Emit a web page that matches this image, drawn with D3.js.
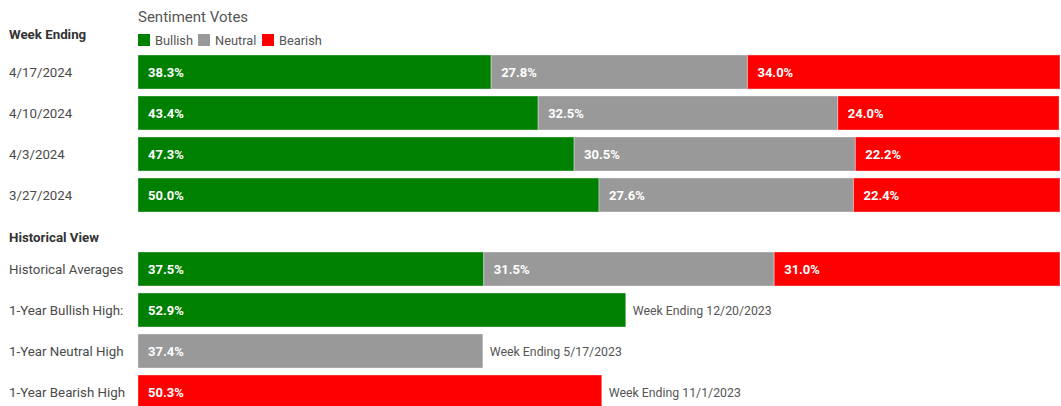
<!DOCTYPE html>
<html><head><meta charset="utf-8">
<script src="https://cdn.jsdelivr.net/npm/d3@7"></script>
<style>
body{margin:0;background:#fff;}
svg{display:block;font-family:Roboto, "Noto Sans", sans-serif;}
</style></head>
<body><svg id="c" width="1061" height="406"></svg>
<script>
const weeks = ["4/17/2024","4/10/2024","4/3/2024","3/27/2024"];
const bullish = [38.3, 43.4, 47.3, 50.0];
const neutral = [27.8, 32.5, 30.5, 27.6];
const bearish = [34.0, 24.0, 22.2, 22.4];

const histLabels = ["Historical Averages","1-Year Bullish High:","1-Year Neutral High","1-Year Bearish High"];
const histAvg = [37.5, 31.5, 31.0];
const highValues = [52.9, 37.4, 50.3];
const highSeries = ["Bullish","Neutral","Bearish"];
const highDates = ["Week Ending 12/20/2023","Week Ending 5/17/2023","Week Ending 11/1/2023"];

const seriesNames = ["Bullish","Neutral","Bearish"];
const colors = {Bullish:"#008000", Neutral:"#999999", Bearish:"#ff0000"};

const svg = d3.select("#c");
const x = d3.scaleLinear().domain([0,100]).range([138,1060]);
const yW = d3.scaleBand().domain(weeks).range([51.5,215.5]).paddingInner(7/41).paddingOuter(3.5/41);
const yH = d3.scaleBand().domain(histLabels).range([248.5,412.5]).paddingInner(7/41).paddingOuter(3.5/41);

const labelColor = "#4a4a4a";
const labelSize = 13.3;

// Headers
svg.append("text").attr("x",138).attr("y",22).attr("font-size",15).attr("fill","#555").text("Sentiment Votes");
svg.append("text").attr("x",9).attr("y",39).attr("font-size",13.3).attr("font-weight","bold").attr("fill","#333").text("Week Ending");
svg.append("text").attr("x",9).attr("y",242).attr("font-size",13.3).attr("font-weight","bold").attr("fill","#333").text("Historical View");

// Legend
const legX = [138, 198, 262];
seriesNames.forEach((s,i)=>{
  svg.append("rect").attr("x",legX[i]).attr("y",34).attr("width",12).attr("height",12).attr("fill",colors[s]);
  svg.append("text").attr("x",legX[i]+17).attr("y",44.5).attr("font-size",12.8).attr("fill","#555").text(s);
});

const weekData = weeks.map((w,i)=>({label:w, vals:[bullish[i],neutral[i],bearish[i]]}));
function stackedRow(label, vals, yscale){
  let cum = 0;
  vals.forEach((v,j)=>{
    const x0 = x(cum), x1 = x(cum+v);
    svg.append("rect").attr("x",x0).attr("y",yscale(label)).attr("width",Math.max(0,Math.min(x1,1060)-x0))
      .attr("height",yscale.bandwidth()).attr("fill",colors[seriesNames[j]])
      .attr("stroke","rgba(255,255,255,0.35)").attr("stroke-width",1);
    svg.append("text").attr("x",x0+10).attr("y",yscale(label)+yscale.bandwidth()/2+4.5)
      .attr("font-size",13).attr("font-weight","bold").attr("fill","#fff").text(d3.format(".1f")(v)+"%");
    cum += v;
  });
  svg.append("text").attr("x",9).attr("y",yscale(label)+yscale.bandwidth()/2+4.5)
    .attr("font-size",labelSize).attr("fill",labelColor).text(label);
}
weekData.forEach(d=>stackedRow(d.label,d.vals,yW));
stackedRow(histLabels[0], histAvg, yH);

highValues.forEach((v,i)=>{
  const lab = histLabels[i+1];
  const yy = yH(lab), h = yH.bandwidth();
  svg.append("rect").attr("x",x(0)).attr("y",yy).attr("width",x(v)-x(0)).attr("height",h)
    .attr("fill",colors[highSeries[i]]).attr("stroke","rgba(255,255,255,0.35)").attr("stroke-width",1);
  svg.append("text").attr("x",x(0)+10).attr("y",yy+h/2+4.5).attr("font-size",13).attr("font-weight","bold")
    .attr("fill","#fff").text(d3.format(".1f")(v)+"%");
  svg.append("text").attr("x",x(v)+7).attr("y",yy+h/2+4.5).attr("font-size",12.3).attr("fill","#555").text(highDates[i]);
  svg.append("text").attr("x",9).attr("y",yy+h/2+4.5).attr("font-size",labelSize).attr("fill",labelColor).text(lab);
});
</script></body></html>
